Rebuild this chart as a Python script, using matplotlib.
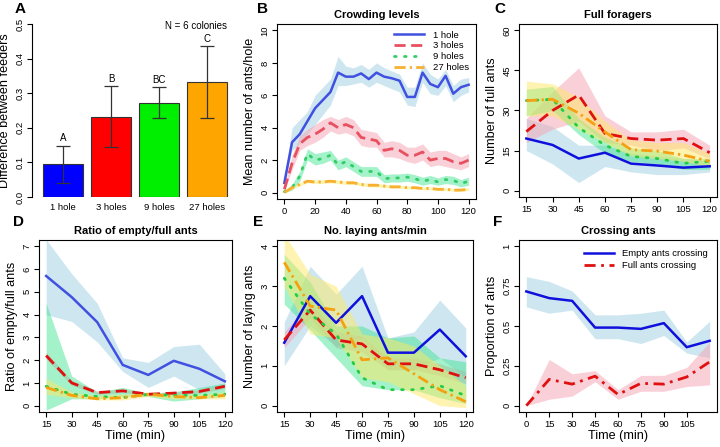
import numpy as np
import matplotlib
matplotlib.use("Agg")
import matplotlib.pyplot as plt

plt.rcParams['font.family'] = ['Liberation Sans', 'DejaVu Sans']

# ---- panel A data ----
groups = ['1 hole', '3 holes', '9 holes', '27 holes']
diff_mean = [0.095, 0.232, 0.272, 0.332]
diff_lo = [0.040, 0.145, 0.228, 0.227]
diff_hi = [0.148, 0.320, 0.317, 0.435]
sig_letters = ['A', 'B', 'BC', 'C']

# ---- panel B data ----
t_b = list(range(0, 125, 5))
crowd_1 = [0.6, 3.1, 3.6, 4.4, 5.2, 5.7, 6.2, 7.4, 7.15, 7.15, 7.35, 7.0, 7.4, 7.15, 7.05, 6.9, 5.9, 5.9, 7.4, 6.7, 6.5, 7.2, 6.1, 6.5, 6.65]
crowd_1_lo = [0.5, 2.6, 3.0, 3.6, 4.2, 4.8, 5.4, 6.6, 6.6, 6.7, 6.8, 6.5, 6.8, 6.6, 6.4, 6.2, 5.4, 5.3, 6.8, 6.1, 6.0, 6.6, 5.6, 6.0, 6.2]
crowd_1_hi = [0.8, 4.0, 4.5, 5.0, 6.0, 6.5, 7.0, 8.4, 7.8, 7.7, 7.9, 7.6, 8.0, 7.7, 7.5, 7.3, 6.5, 6.5, 8.0, 7.3, 7.0, 7.6, 6.6, 7.0, 7.1]
crowd_3 = [0.2, 1.8, 3.0, 3.4, 3.6, 3.9, 4.3, 4.0, 4.2, 4.0, 3.4, 3.3, 3.2, 2.6, 2.7, 2.6, 2.3, 2.3, 2.5, 2.0, 2.1, 2.1, 1.9, 1.8, 2.0]
crowd_3_lo = [0.1, 1.4, 2.6, 2.9, 3.1, 3.4, 3.8, 3.6, 3.7, 3.5, 2.9, 2.8, 2.8, 2.2, 2.2, 2.1, 1.9, 1.8, 2.0, 1.6, 1.7, 1.6, 1.5, 1.4, 1.6]
crowd_3_hi = [0.4, 2.3, 3.5, 3.9, 4.2, 4.5, 4.7, 4.5, 4.7, 4.5, 3.9, 3.8, 3.7, 3.1, 3.2, 3.1, 2.8, 2.8, 3.0, 2.5, 2.6, 2.6, 2.4, 2.2, 2.4]
crowd_9 = [0.05, 0.3, 1.0, 2.4, 2.0, 2.1, 2.3, 1.7, 1.9, 1.6, 1.3, 1.3, 1.3, 0.85, 0.9, 0.9, 0.95, 0.85, 0.7, 0.8, 0.65, 0.8, 0.75, 0.55, 0.7]
crowd_9_lo = [0.0, 0.15, 0.7, 2.0, 1.7, 1.8, 2.0, 1.4, 1.6, 1.3, 1.0, 1.0, 1.0, 0.6, 0.65, 0.65, 0.7, 0.6, 0.45, 0.55, 0.45, 0.55, 0.5, 0.35, 0.45]
crowd_9_hi = [0.1, 0.5, 1.3, 2.7, 2.4, 2.5, 2.6, 2.0, 2.2, 1.9, 1.6, 1.6, 1.6, 1.1, 1.15, 1.15, 1.2, 1.1, 0.95, 1.05, 0.9, 1.05, 1.0, 0.8, 0.95]
crowd_27 = [0.0, 0.3, 0.5, 0.7, 0.65, 0.65, 0.7, 0.65, 0.6, 0.6, 0.5, 0.45, 0.45, 0.4, 0.35, 0.35, 0.3, 0.3, 0.25, 0.25, 0.2, 0.2, 0.15, 0.15, 0.2]
crowd_27_lo = [0.0, 0.2, 0.4, 0.6, 0.55, 0.55, 0.6, 0.55, 0.5, 0.5, 0.4, 0.35, 0.35, 0.3, 0.27, 0.27, 0.22, 0.22, 0.17, 0.17, 0.12, 0.12, 0.08, 0.08, 0.12]
crowd_27_hi = [0.05, 0.4, 0.6, 0.8, 0.78, 0.78, 0.8, 0.78, 0.72, 0.72, 0.62, 0.57, 0.57, 0.5, 0.45, 0.45, 0.4, 0.4, 0.35, 0.35, 0.3, 0.3, 0.25, 0.25, 0.3]

# ---- panels C, D, E data (times 15..120) ----
t_c = [15, 30, 45, 60, 75, 90, 105, 120]
full_1 = [19.5, 17.1, 12.0, 14.2, 10.1, 9.4, 8.6, 9.1]
full_1_lo = [15, 10, 3, 9, 7, 6, 6, 7]
full_1_hi = [27, 24, 17, 17, 14, 13, 12, 11]
full_3 = [22.1, 30.0, 35.8, 21.4, 19.5, 18.9, 19.5, 14.2]
full_3_lo = [18, 23, 26, 18, 17, 15, 16, 12]
full_3_hi = [27, 37, 46, 28, 22, 22, 23, 17]
full_9 = [33.7, 34.2, 23.6, 17.0, 12.8, 12.0, 10.2, 11.0]
full_9_lo = [28, 30, 21, 14, 11, 10, 8, 8]
full_9_hi = [38, 39, 27, 20, 16, 15, 12, 12]
full_27 = [33.7, 34.2, 29.0, 22.0, 15.3, 14.8, 13.3, 11.0]
full_27_lo = [28, 28, 23, 18, 13, 12, 11, 9]
full_27_hi = [41, 40, 35, 26, 19, 18, 18, 14]

ratio_1 = [5.7, 4.77, 3.67, 1.79, 1.35, 1.97, 1.62, 1.07]
ratio_1_lo = [4.0, 3.7, 2.8, 1.5, 0.8, 1.3, 0.7, 0.9]
ratio_1_hi = [7.3, 5.8, 4.5, 2.1, 1.9, 2.6, 2.7, 1.4]
ratio_3 = [2.2, 1.0, 0.57, 0.65, 0.5, 0.55, 0.62, 0.85]
ratio_3_lo = [2.05, 0.9, 0.5, 0.58, 0.45, 0.48, 0.55, 0.75]
ratio_3_hi = [2.35, 1.1, 0.65, 0.72, 0.55, 0.62, 0.7, 0.95]
ratio_9 = [0.85, 0.5, 0.4, 0.35, 0.5, 0.45, 0.45, 0.5]
ratio_9_lo = [-0.2, 0.3, 0.3, 0.4, 0.4, 0.2, 0.3, 0.4]
ratio_9_hi = [4.5, 1.3, 0.6, 0.8, 0.55, 0.6, 0.8, 1.0]
ratio_27 = [0.8, 0.45, 0.3, 0.35, 0.5, 0.4, 0.35, 0.45]
ratio_27_lo = [0.5, 0.35, 0.25, 0.25, 0.4, 0.3, 0.3, 0.3]
ratio_27_hi = [1.2, 0.6, 0.45, 0.5, 0.6, 0.5, 0.5, 0.6]

lay_1 = [1.58, 2.75, 2.08, 2.75, 1.33, 1.33, 1.91, 1.24]
lay_1_lo = [1.0, 2.0, 1.5, 1.7, 0.9, 0.9, 1.2, 0.7]
lay_1_hi = [2.1, 3.5, 2.8, 3.5, 1.7, 1.85, 2.65, 1.95]
lay_3 = [1.65, 2.4, 1.65, 1.55, 1.05, 1.05, 0.9, 0.7]
lay_3_lo = [1.45, 2.2, 1.45, 1.35, 0.9, 0.9, 0.75, 0.55]
lay_3_hi = [1.85, 2.6, 1.85, 1.75, 1.2, 1.2, 1.05, 0.85]
lay_9 = [3.2, 2.3, 1.8, 0.7, 0.4, 0.4, 0.5, 0.25]
lay_9_lo = [2.55, 1.9, 1.2, 0.5, 0.4, 0.4, 0.2, 0.05]
lay_9_hi = [3.8, 3.1, 2.0, 2.0, 1.7, 1.75, 1.2, 1.1]
lay_27 = [3.6, 2.5, 2.4, 1.15, 1.2, 0.8, 0.4, 0.1]
lay_27_lo = [3.0, 1.8, 1.7, 0.7, 0.6, 0.3, 0.0, -0.05]
lay_27_hi = [4.3, 3.3, 3.0, 1.8, 1.7, 1.5, 1.0, 0.5]

# ---- panel F data ----
t_f = [0, 15, 30, 45, 60, 75, 90, 105, 120]
cross_empty = [0.717, 0.675, 0.658, 0.49, 0.49, 0.482, 0.518, 0.367, 0.407]
cross_empty_lo = [0.62, 0.58, 0.60, 0.42, 0.42, 0.39, 0.44, 0.33, 0.30]
cross_empty_hi = [0.81, 0.78, 0.72, 0.57, 0.57, 0.58, 0.60, 0.40, 0.53]
cross_full = [0.0, 0.165, 0.135, 0.185, 0.07, 0.14, 0.135, 0.18, 0.275]
cross_full_lo = [0.0, 0.04, 0.06, 0.15, 0.04, 0.09, 0.09, 0.12, 0.13]
cross_full_hi = [0.0, 0.29, 0.20, 0.22, 0.10, 0.19, 0.19, 0.24, 0.40]

bar_colors = ['#0000FF', '#FF0000', '#00EE00', '#FFA500']
band_colors = ['#9ECFE3', '#F7A3B3', '#33E38A', '#FFE866']
band_alpha = [0.5, 0.5, 0.45, 0.5]

W, H = 720, 447
LABEL_FS = 9.1
TITLE_FS = 8
fig = plt.figure(figsize=(7.2, 4.47), dpi=100)


def make_ax(left, top, right, bottom):
    return fig.add_axes([left / W, 1 - bottom / H, (right - left) / W, (bottom - top) / H])


def style_ax(ax, box=True):
    for s in ax.spines.values():
        s.set_linewidth(0.8)
        s.set_visible(box)
    ax.tick_params(axis='both', direction='out', length=3.5, width=0.8, labelsize=6.8, pad=2)
    ax.tick_params(axis='y', labelrotation=90)
    for lab in ax.get_yticklabels():
        lab.set_va('center')


def line_styles():
    return [
        dict(color='#1010DD', ls='-', lw=1.8),
        dict(color='#E01010', ls=(0, (4, 2)), lw=2.0),
        dict(color='#22CC44', ls=(0, (0.6, 3)), lw=2.0, dash_capstyle='round'),
        dict(color='#F5A010', ls=(0, (4, 1.5, 0.8, 1.5)), lw=2.0),
    ]


def draw_series(ax, x, series, styles, bands):
    for (lo, hi), bc, ba in zip(bands, band_colors, band_alpha):
        ax.fill_between(x, lo, hi, color=bc, alpha=ba, lw=0)
    handles = []
    for y, st in zip(series, styles):
        handles += ax.plot(x, y, **st)
    return handles


# ---- A ----
axA = make_ax(32, 24, 235, 197)
xpos = np.array([0.7, 1.9, 3.1, 4.3])
axA.bar(xpos, diff_mean, width=1.0, color=bar_colors, edgecolor='#333333', lw=0.8)
err = [np.array(diff_mean) - np.array(diff_lo), np.array(diff_hi) - np.array(diff_mean)]
axA.errorbar(xpos, diff_mean, yerr=err, fmt='none', ecolor='#333333', elinewidth=0.9, capsize=5, capthick=0.9)
for xp, hi, lt in zip(xpos, diff_hi, sig_letters):
    axA.text(xp, hi + 0.008, lt, ha='center', va='bottom', fontsize=7)
axA.text(4.8, 0.495, 'N = 6 colonies', ha='right', va='center', fontsize=7)
axA.set_xlim(-0.075, 5.0)
axA.set_ylim(0, 0.5)
axA.set_xticks(xpos)
axA.set_xticklabels(groups)
axA.set_yticks([0.0, 0.1, 0.2, 0.3, 0.4, 0.5])
axA.set_yticklabels(['0.0', '0.1', '0.2', '0.3', '0.4', '0.5'])
style_ax(axA, box=False)
axA.spines['left'].set_visible(True)
axA.spines['left'].set_bounds(0, 0.5)
axA.tick_params(axis='x', length=0, pad=4)
axA.set_ylabel('Difference between feeders', fontsize=LABEL_FS, labelpad=3)

# ---- B ----
axB = make_ax(277, 24, 476, 199)
stB = line_styles()
stB[0]['color'] = '#4050E0'
stB[1]['color'] = '#E85060'
stB[2]['color'] = '#33CC66'
stB[3]['color'] = '#F8B030'
hB = draw_series(axB, t_b, [crowd_1, crowd_3, crowd_9, crowd_27], stB,
                 [(crowd_1_lo, crowd_1_hi), (crowd_3_lo, crowd_3_hi), (crowd_9_lo, crowd_9_hi), (crowd_27_lo, crowd_27_hi)])
axB.set_xlim(-4.8, 124.8)
axB.set_ylim(-0.4, 10.4)
axB.set_xticks(range(0, 121, 20))
axB.set_yticks(range(0, 11, 2))
style_ax(axB)
axB.set_ylabel('Mean number of ants/hole', fontsize=LABEL_FS, labelpad=3)
axB.set_title('Crowding levels', fontsize=TITLE_FS, fontweight='bold', pad=4)
axB.legend(hB, ['1 hole', '3 holes', '9 holes', '27 holes'], loc='upper right', frameon=False,
           fontsize=6.8, handlelength=3.2, labelspacing=0.2, borderaxespad=0.3, handletextpad=1.0)

# ---- C ----
axC = make_ax(519, 24, 717, 197)
draw_series(axC, t_c, [full_1, full_3, full_9, full_27], line_styles(),
            [(full_1_lo, full_1_hi), (full_3_lo, full_3_hi), (full_9_lo, full_9_hi), (full_27_lo, full_27_hi)])
axC.set_xlim(10.8, 124.2)
axC.set_ylim(-2.4, 62.4)
axC.set_xticks(t_c)
axC.set_yticks(range(0, 61, 15))
style_ax(axC)
axC.set_ylabel('Number of full ants', fontsize=LABEL_FS, labelpad=3)
axC.set_title('Full foragers', fontsize=TITLE_FS, fontweight='bold', pad=4)

# ---- D ----
axD = make_ax(39, 240, 232, 412)
stD = line_styles()
stD[0]['color'] = '#4050E0'
draw_series(axD, t_c, [ratio_1, ratio_3, ratio_9, ratio_27], stD,
            [(ratio_1_lo, ratio_1_hi), (ratio_3_lo, ratio_3_hi), (ratio_9_lo, ratio_9_hi), (ratio_27_lo, ratio_27_hi)])
axD.set_xlim(10.8, 124.2)
axD.set_ylim(-0.28, 7.28)
axD.set_xticks(t_c)
axD.set_yticks(range(0, 8))
style_ax(axD)
axD.set_ylabel('Ratio of empty/full ants', fontsize=LABEL_FS, labelpad=3)
axD.set_xlabel('Time (min)', fontsize=LABEL_FS, labelpad=1)
axD.set_title('Ratio of empty/full ants', fontsize=TITLE_FS, fontweight='bold', pad=4)

# ---- E ----
axE = make_ax(277, 240, 473, 412)
draw_series(axE, t_c, [lay_1, lay_3, lay_9, lay_27], line_styles(),
            [(lay_1_lo, lay_1_hi), (lay_3_lo, lay_3_hi), (lay_9_lo, lay_9_hi), (lay_27_lo, lay_27_hi)])
axE.set_xlim(10.8, 124.2)
axE.set_ylim(-0.16, 4.16)
axE.set_xticks(t_c)
axE.set_yticks(range(0, 5))
style_ax(axE)
axE.set_ylabel('Number of laying ants', fontsize=LABEL_FS, labelpad=3)
axE.set_xlabel('Time (min)', fontsize=LABEL_FS, labelpad=1)
axE.set_title('No. laying ants/min', fontsize=TITLE_FS, fontweight='bold', pad=4)

# ---- F ----
axF = make_ax(519, 240, 717, 412)
axF.fill_between(t_f, cross_empty_lo, cross_empty_hi, color=band_colors[0], alpha=0.5, lw=0)
axF.fill_between(t_f, cross_full_lo, cross_full_hi, color=band_colors[1], alpha=0.5, lw=0)
stF = line_styles()
hF = axF.plot(t_f, cross_empty, **stF[0])
hF += axF.plot(t_f, cross_full, color='#E01010', ls=(0, (4, 2, 1, 2)), lw=2.0)
axF.set_xlim(-4.8, 124.8)
axF.set_ylim(-0.04, 1.04)
axF.set_xticks(range(0, 106, 15))
axF.set_yticks([0, 0.25, 0.5, 0.75, 1])
axF.set_yticklabels(['0', '0.25', '0.5', '0.75', '1'])
style_ax(axF)
axF.set_ylabel('Proportion of ants', fontsize=LABEL_FS, labelpad=3)
axF.set_xlabel('Time (min)', fontsize=LABEL_FS, labelpad=1)
axF.set_title('Crossing ants', fontsize=TITLE_FS, fontweight='bold', pad=4)
axF.legend(hF, ['Empty ants crossing', 'Full ants crossing'], loc='upper right', frameon=False,
           fontsize=6.8, handlelength=3.2, labelspacing=0.3, borderaxespad=0.6, handletextpad=0.8)

# panel letters
for lt, px, py in [('A', 20, 9), ('B', 262, 9), ('C', 500, 9),
                   ('D', 18, 222), ('E', 258, 222), ('F', 498, 222)]:
    fig.text(px / W, 1 - py / H, lt, fontsize=11, fontweight='bold', ha='center', va='center')

fig.savefig('out.png', dpi=100)
